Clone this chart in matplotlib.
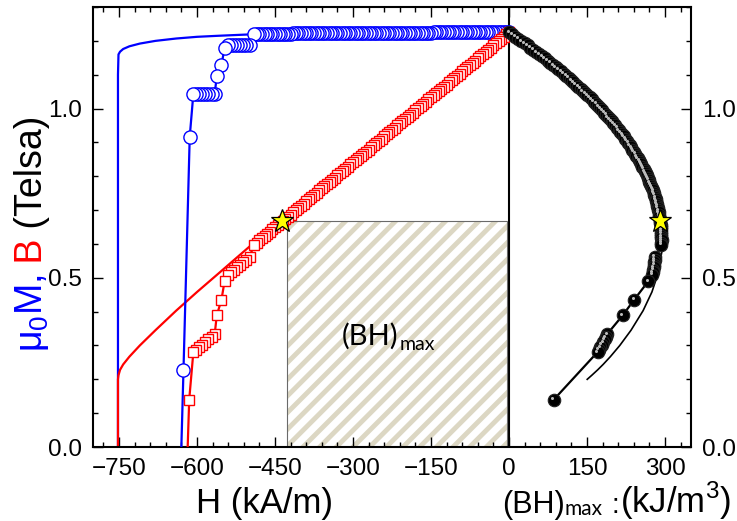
import matplotlib
matplotlib.use('Agg')
import matplotlib.pyplot as plt
import matplotlib.ticker as ticker
from matplotlib.patches import Rectangle
from matplotlib.transforms import offset_copy

plt.rcParams['font.family'] = ['Liberation Sans', 'DejaVu Sans']
plt.rcParams['hatch.linewidth'] = 3.5

# --- simulated curves (solid lines) ---
H_sim = [0, -100, -200, -300, -400, -500, -560, -600, -640, -680, -710, -730, -742, -748, -751, -752, -752]
M_sim = [1.228, 1.227, 1.226, 1.224, 1.222, 1.219, 1.215, 1.212, 1.207, 1.200, 1.192, 1.184, 1.176, 1.168, 1.160, 1.10, 0.0]

H_sim_b = [0, -100, -200, -300, -400, -500, -560, -600, -640, -680, -710, -730, -742, -748, -751, -752, -752]
B_sim = [1.228, 1.101, 0.975, 0.847, 0.719, 0.591, 0.511, 0.458, 0.403, 0.345, 0.300, 0.267, 0.244, 0.228, 0.212, 0.200, 0.0]

BH_sim = [0, 110.1, 195.0, 254.1, 287.6, 295.5, 286.2, 274.8, 257.9, 234.6, 213.0, 194.9, 181.0, 170.5, 159.2, 150.4]
B_sim_bh = [1.228, 1.101, 0.975, 0.847, 0.719, 0.591, 0.511, 0.458, 0.403, 0.345, 0.300, 0.267, 0.244, 0.228, 0.212, 0.200]

# --- experimental points, dense part (H from 0 down to -490 kA/m) ---
H_dense = [0, -5, -10, -15, -20, -25, -30, -35, -40, -45, -50, -55, -60, -65, -70, -75, -80, -85,
           -90, -95, -100, -105, -110, -115, -120, -125, -130, -135, -140, -145, -150, -155, -160,
           -165, -170, -175, -180, -185, -190, -195, -200, -205, -210, -215, -220, -225, -230,
           -235, -240, -245, -250, -255, -260, -265, -270, -275, -280, -285, -290, -295, -300,
           -305, -310, -315, -320, -325, -330, -335, -340, -345, -350, -355, -360, -365, -370,
           -375, -380, -385, -390, -395, -400, -405, -410, -415, -420, -425, -430, -435, -440,
           -445, -450, -455, -460, -465, -470, -475, -480, -485, -490]
M_dense = [1.226, 1.226, 1.226, 1.226, 1.226, 1.226, 1.226, 1.226, 1.226, 1.226,
           1.225, 1.225, 1.225, 1.225, 1.225, 1.225, 1.225, 1.225, 1.225, 1.225,
           1.225, 1.225, 1.225, 1.225, 1.225, 1.225, 1.225, 1.225, 1.225, 1.225,
           1.224, 1.224, 1.224, 1.224, 1.224, 1.224, 1.224, 1.224, 1.224, 1.224,
           1.224, 1.224, 1.224, 1.224, 1.224, 1.224, 1.224, 1.224, 1.224, 1.224,
           1.223, 1.223, 1.223, 1.223, 1.223, 1.223, 1.223, 1.223, 1.223, 1.223,
           1.223, 1.223, 1.223, 1.223, 1.223, 1.223, 1.223, 1.223,
           1.222, 1.222, 1.222, 1.222, 1.222, 1.222, 1.222, 1.222, 1.222, 1.222,
           1.222, 1.222, 1.222, 1.222, 1.222, 1.222,
           1.221, 1.221, 1.221, 1.221, 1.221, 1.221, 1.221, 1.221, 1.221, 1.221,
           1.220, 1.220, 1.220, 1.220, 1.220]
B_dense = [1.225, 1.219, 1.212, 1.206, 1.199, 1.193, 1.187, 1.180, 1.174, 1.167, 1.161, 1.155,
           1.148, 1.142, 1.135, 1.129, 1.123, 1.116, 1.110, 1.103, 1.097, 1.091, 1.084, 1.078,
           1.071, 1.065, 1.059, 1.052, 1.046, 1.039, 1.033, 1.027, 1.020, 1.014, 1.007, 1.001,
           0.995, 0.988, 0.982, 0.975, 0.969, 0.963, 0.956, 0.950, 0.943, 0.937, 0.931, 0.924,
           0.918, 0.911, 0.905, 0.899, 0.892, 0.886, 0.879, 0.873, 0.867, 0.860, 0.854, 0.847,
           0.841, 0.835, 0.828, 0.822, 0.815, 0.809, 0.803, 0.796, 0.790, 0.783, 0.777, 0.771,
           0.764, 0.758, 0.751, 0.745, 0.739, 0.732, 0.726, 0.719, 0.713, 0.707, 0.700, 0.694,
           0.687, 0.681, 0.675, 0.668, 0.662, 0.655, 0.649, 0.643, 0.636, 0.630, 0.623, 0.617,
           0.611, 0.604, 0.598]
BH_dense = [0, 6.1, 12.1, 18.1, 24.0, 29.8, 35.6, 41.3, 47.0, 52.5, 58.1, 63.5, 68.9, 74.2, 79.5,
            84.7, 89.8, 94.9, 99.9, 104.8, 109.7, 114.6, 119.2, 124.0, 128.5, 133.1, 137.7,
            142.0, 146.4, 150.7, 155.0, 159.2, 163.2, 167.3, 171.2, 175.2, 179.1, 182.8, 186.6,
            190.1, 193.8, 197.4, 200.8, 204.3, 207.5, 210.8, 214.1, 217.1, 220.3, 223.2, 226.3,
            229.2, 231.9, 234.8, 237.3, 240.1, 242.8, 245.1, 247.7, 249.9, 252.3, 254.7, 256.7,
            258.9, 260.8, 262.9, 265.0, 266.7, 268.6, 270.1, 272.0, 273.7, 275.0, 276.7, 277.9,
            279.4, 280.8, 281.8, 283.1, 284.0, 285.2, 286.3, 287.0, 288.0, 288.5, 289.4, 290.3,
            290.6, 291.3, 291.5, 292.1, 292.6, 292.6, 293.0, 292.8, 293.1, 293.3, 292.9, 293.0]

# --- experimental points, steps below -490 kA/m ---
H_m_tail = [-499, -505, -511, -517, -523, -529, -535, -541, -547, -553, -562, -566, -572, -578,
            -584, -590, -596, -602, -607, -614, -626, -631]
M_tail = [1.189, 1.189, 1.189, 1.189, 1.189, 1.189, 1.189, 1.189, 1.178, 1.130, 1.095, 1.044,
          1.044, 1.044, 1.044, 1.044, 1.044, 1.044, 1.044, 0.917, 0.228, -0.05]

H_b_tail = [-499, -505, -511, -517, -523, -529, -535, -541, -547, -553, -562, -566, -572, -578,
            -584, -590, -596, -602, -607, -615, -619]
B_tail = [0.562, 0.554, 0.547, 0.539, 0.532, 0.524, 0.517, 0.509, 0.490, 0.435, 0.389, 0.333,
          0.325, 0.318, 0.310, 0.302, 0.295, 0.287, 0.281, 0.140, -0.05]

BH_tail = [280.4, 279.8, 279.5, 278.7, 278.2, 277.2, 276.6, 275.4, 268.0, 240.6, 218.6, 188.5,
           185.9, 183.8, 181.0, 178.2, 175.8, 172.8, 170.6, 86.1]
B_bh_tail = [0.562, 0.554, 0.547, 0.539, 0.532, 0.524, 0.517, 0.509, 0.490, 0.435, 0.389, 0.333,
             0.325, 0.318, 0.310, 0.302, 0.295, 0.287, 0.281, 0.140]

# (BH)max working point and the shaded rectangle
star_H, star_BH, star_B = -437, 291, 0.667
rect_H0, rect_H1, rect_B = -426, -3, 0.669

fig = plt.figure(figsize=(7.37, 5.21), dpi=100)
ax = fig.add_axes([0.1262, 0.1420, 0.8114, 0.8445])

ax.axvline(0, color='black', lw=1.5, zorder=1)

ax.add_patch(Rectangle((rect_H0, 0), rect_H1 - rect_H0, rect_B, facecolor='white',
                       edgecolor='#dcd7c3', hatch='//', lw=0, zorder=1))
ax.add_patch(Rectangle((rect_H0, 0), rect_H1 - rect_H0, rect_B, facecolor='none',
                       edgecolor='#6a6a6a', lw=0.8, zorder=1.1))

t1 = ax.text(-322, 0.302, '(BH)', fontsize=21, family='Lato', va='baseline', ha='left', zorder=2)
ax.annotate('max', xy=(1, 0), xycoords=t1, xytext=(1, -2), textcoords='offset points',
            fontsize=14, family='Lato', va='bottom', ha='left')

# simulated lines
ax.plot(H_sim, M_sim, color='#0000ff', lw=1.6, zorder=2)
ax.plot(H_sim_b, B_sim, color='#ff0000', lw=1.6, zorder=2)
ax.plot(BH_sim, B_sim_bh, color='black', lw=1.2, zorder=2)

# experimental
ax.plot(H_dense + H_m_tail, M_dense + M_tail, color='#0000ff', lw=1.6, marker='o', ms=9.5,
        mfc='white', mec='#0000ff', mew=1.0, zorder=3)
ax.plot(H_dense + H_b_tail, B_dense + B_tail, color='#ff0000', lw=1.6, marker='s', ms=7.5,
        mfc='white', mec='#ff0000', mew=1.0, zorder=3)
ax.plot(BH_dense + BH_tail, B_dense + B_bh_tail, color='black', lw=1.6, marker='o', ms=9,
        mfc='black', mec='#222222', mew=0.8, zorder=3)
hl = offset_copy(ax.transData, fig=fig, x=-1.0, y=1.0, units='points')
ax.plot(BH_dense + BH_tail, B_dense + B_bh_tail, ls='none', marker='o', ms=2.2,
        mfc='#bbbbbb', mec='none', transform=hl, zorder=3.5)

ax.plot([star_H, star_BH], [star_B, star_B], ls='none', marker='*', ms=17,
        mfc='#ffff00', mec='black', mew=0.9, zorder=5)

ax.set_xlim(-800, 350)
ax.set_ylim(0, 1.3)
ax.xaxis.set_major_locator(ticker.MultipleLocator(150))
ax.xaxis.set_minor_locator(ticker.MultipleLocator(30))
ax.yaxis.set_major_locator(ticker.MultipleLocator(0.5))
ax.yaxis.set_minor_locator(ticker.MultipleLocator(0.1))
ax.yaxis.set_major_formatter(ticker.FormatStrFormatter('%.1f'))
ax.tick_params(which='both', direction='in', top=True, right=True, labelright=True,
               labelsize=17.5, width=1.0)
ax.tick_params(which='major', length=7, pad=8)
ax.tick_params(which='minor', length=3.5)
for s in ax.spines.values():
    s.set_linewidth(1.5)

# axis labels
fig.text(265 / 737, 1 - 513 / 521, 'H (kA/m)', fontsize=25, ha='center', va='baseline')
fig.text(502 / 737, 1 - 513 / 521, '(BH)', fontsize=22, ha='left', va='baseline')
fig.text(564 / 737, 1 - 515 / 521, 'max', fontsize=15, family='Lato', ha='left', va='baseline')
fig.text(612 / 737, 1 - 513 / 521, ':', fontsize=20, ha='left', va='baseline')
fig.text(731 / 737, 1 - 513 / 521, '(kJ/m$^\\mathregular{3}$)', fontsize=25, ha='right', va='baseline')

# multi-coloured y label
x0, y0 = 42 / 737, 1 - 352 / 521
p1 = fig.text(x0, y0, 'μ$_\\mathregular{0}$M,', fontsize=27, color='#0000ff', rotation=90,
              rotation_mode='anchor', ha='left', va='baseline')
p2 = fig.text(0, 0, ' B', fontsize=27, color='#ff0000', rotation=90,
              rotation_mode='anchor', ha='left', va='baseline')
p3 = fig.text(0, 0, ' (Telsa)', fontsize=27, color='black', rotation=90,
              rotation_mode='anchor', ha='left', va='baseline')
fig.canvas.draw()
r = fig.canvas.get_renderer()
top1 = fig.transFigure.inverted().transform((0, p1.get_window_extent(r).y1))[1]
p2.set_position((x0, top1))
top2 = fig.transFigure.inverted().transform((0, p2.get_window_extent(r).y1))[1]
p3.set_position((x0, top2))

fig.savefig('out.png', dpi=100)
